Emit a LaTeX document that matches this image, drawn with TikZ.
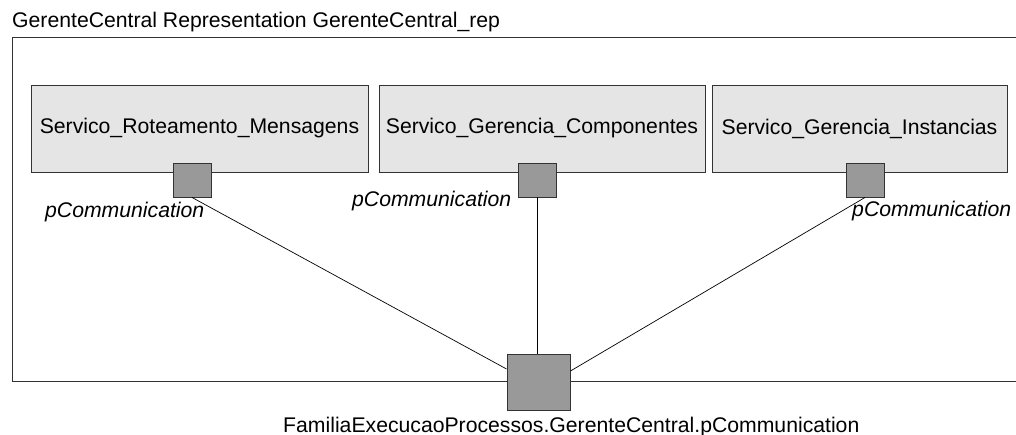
\documentclass[tikz,border=0pt]{standalone}
\usepackage{fontspec}
\setmainfont{Liberation Sans}
\begin{document}
\begin{tikzpicture}[x=1pt,y=-1pt,
  every node/.style={font=\fontsize{21.2}{25}\selectfont},
  compbox/.style={draw=black!80,line width=0.9pt,fill=black!10,inner sep=0pt,minimum height=87pt},
  portbox/.style={draw=black!80,line width=0.9pt,fill=black!40,inner sep=0pt,minimum width=38pt,minimum height=34pt},
  bigport/.style={draw=black!80,line width=0.9pt,fill=black!40,inner sep=0pt,minimum width=63pt,minimum height=56pt},
  portlabel/.style={font=\fontsize{21.2}{25}\selectfont\itshape,inner sep=0pt,anchor=base west},
  plainlabel/.style={inner sep=0pt},
  wire/.style={draw=black,line width=0.7pt}]
\useasboundingbox (0,0) rectangle (1016,435);

% enclosing representation frame, open on the right
\node[plainlabel,anchor=base west] (title) at (12,28) {GerenteCentral Representation GerenteCentral\_rep};
\draw[draw=black!80,line width=0.9pt] (1030,37) -- (12,37) -- (12,381) -- (1030,381);

% components
\node[compbox,minimum width=337pt] (c1) at (199.5,128.5) {Servico\_Roteamento\_Mensagens};
\node[compbox,minimum width=326pt] (c2) at (542,128.5) {Servico\_Gerencia\_Componentes};
\node[compbox,minimum width=295pt] (c3) at (859.5,128.5) {Servico\_Gerencia\_Instancias};

% component ports
\node[portbox] (p1) at (192,180) {};
\node[portbox] (p2) at (537,180) {};
\node[portbox] (p3) at (865,180) {};

% outer port
\node[bigport] (big) at (538.5,382) {};

% bindings
\draw[wire] (p1.south) -- ([yshift=13pt]big.west);
\draw[wire] (p2.south) -- (p2.south |- big.north);
\draw[wire] (p3.south) -- ([yshift=11pt]big.east);

% port labels
\node[portlabel] (l1) at (45,218) {pCommunication};
\node[portlabel] (l2) at (352,207) {pCommunication};
\node[portlabel] (l3) at (852,217) {pCommunication};
\node[plainlabel,anchor=base west] (lbig) at (283,432) {FamiliaExecucaoProcessos.GerenteCentral.pCommunication};
\end{tikzpicture}
\end{document}
